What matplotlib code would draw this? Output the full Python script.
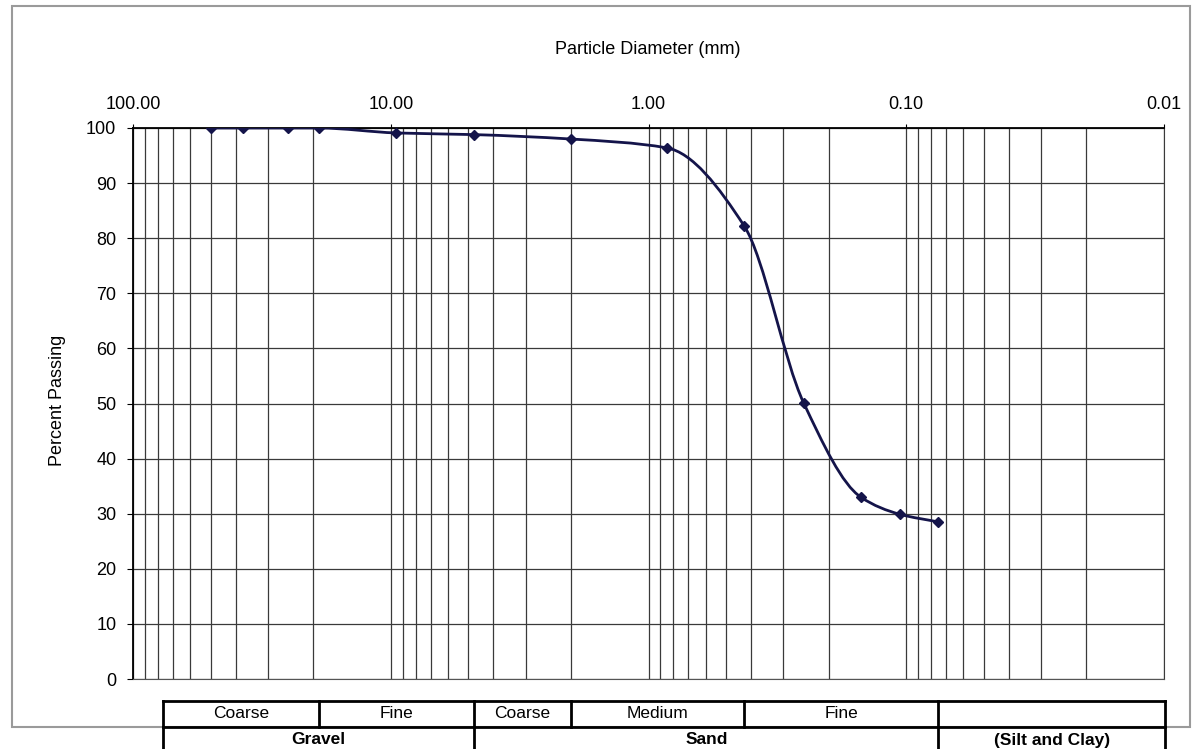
import numpy as np
import matplotlib
matplotlib.use("Agg")
import matplotlib.pyplot as plt
from matplotlib import font_manager, transforms
from matplotlib.path import Path
from matplotlib.patches import PathPatch, Rectangle
from matplotlib.lines import Line2D
from matplotlib.ticker import LogLocator, NullFormatter

# sieve data
sizes_mm = [50, 37.5, 25, 19, 9.5, 4.75, 2.0, 0.85, 0.425, 0.25, 0.15, 0.106, 0.075]
passing = [100, 100, 100, 100, 99.1, 98.8, 98.0, 96.4, 82.2, 50.1, 33.0, 29.9, 28.5]

x_ticks = [100, 10, 1, 0.1, 0.01]
x_tick_labels = ["100.00", "10.00", "1.00", "0.10", "0.01"]
y_ticks = list(range(0, 101, 10))

# classification table under the chart
sub_labels = ["Coarse", "Fine", "Coarse", "Medium", "Fine", ""]
sub_bounds = [76.2, 19, 4.75, 2.0, 0.425, 0.075, 0.0099]
group_labels = ["Gravel", "Sand", "(Silt and Clay)"]
group_bounds = [76.2, 4.75, 0.075, 0.0099]

plt.rcParams["font.family"] = ["Liberation Sans", "DejaVu Sans"]
names = {f.name for f in font_manager.fontManager.ttflist}
narrow = "Liberation Sans Narrow" if "Liberation Sans Narrow" in names else "Liberation Sans"
tsize = 13.5 if narrow == "Liberation Sans Narrow" else 12.5

W, H = 1201, 749
fig = plt.figure(figsize=(W / 100, H / 100), dpi=100)


def fx(px):
    return px / W


def fy(py):
    return 1 - py / H


# outer frame
fig.patches.append(Rectangle((fx(12), fy(727)), fx(1190 - 12), (727 - 6) / H,
                             transform=fig.transFigure, fill=False,
                             edgecolor="#9a9a9a", linewidth=1.5))

ax = fig.add_axes([fx(133), fy(679), fx(1164 - 133), (679 - 128) / H])
ax.set_xscale("log")
ax.set_xlim(100, 0.01)
ax.set_ylim(0, 100)

ax.xaxis.tick_top()
ax.set_xticks(x_ticks)
ax.set_xticklabels(x_tick_labels)
ax.xaxis.set_minor_locator(LogLocator(base=10, subs=np.arange(2, 10)))
ax.xaxis.set_minor_formatter(NullFormatter())
ax.set_yticks(y_ticks)
ax.tick_params(axis="x", which="major", length=3, pad=8, labelsize=13)
ax.tick_params(axis="x", which="minor", length=0)
ax.tick_params(axis="y", length=4, pad=8, labelsize=13)

ax.grid(which="both", axis="x", color="#3a3a3a", linewidth=0.9)
ax.grid(which="major", axis="y", color="#3a3a3a", linewidth=0.9)
ax.set_axisbelow(True)
for side in ["top", "left"]:
    ax.spines[side].set_color("black")
    ax.spines[side].set_linewidth(1.3)
ax.spines["right"].set_color("#3a3a3a")
ax.spines["bottom"].set_color("#555555")

# smooth line: monotone cubic (Fritsch-Carlson) in log space, drawn as bezier
u = np.log10(sizes_mm)
v = np.array(passing, dtype=float)
n = len(u)
h = np.diff(u)
d = np.diff(v) / h
m = np.zeros(n)
m[0], m[-1] = d[0], d[-1]
for i in range(1, n - 1):
    if d[i - 1] * d[i] <= 0:
        m[i] = 0.0
    else:
        w1 = 2 * h[i] + h[i - 1]
        w2 = h[i] + 2 * h[i - 1]
        m[i] = (w1 + w2) / (w1 / d[i - 1] + w2 / d[i])
verts = [(u[0], v[0])]
codes = [Path.MOVETO]
for i in range(n - 1):
    verts.append((u[i] + h[i] / 3, v[i] + m[i] * h[i] / 3))
    verts.append((u[i + 1] - h[i] / 3, v[i + 1] - m[i + 1] * h[i] / 3))
    verts.append((u[i + 1], v[i + 1]))
    codes += [Path.CURVE4] * 3
verts = np.array(verts)
verts[:, 0] = 10 ** verts[:, 0]
line_color = "#14144a"
ax.add_patch(PathPatch(Path(verts, codes), fill=False, edgecolor=line_color,
                       linewidth=2, zorder=3))
ax.plot(sizes_mm, passing, linestyle="none", marker="D", markersize=5,
        color=line_color, zorder=4)

fig.text(fx(648), fy(50), "Particle Diameter (mm)", ha="center", va="center",
         fontsize=13)
fig.text(fx(58), fy(400), "Percent Passing", ha="center", va="center",
         rotation=90, fontsize=13)

# table, x positions follow the particle size axis
tr = transforms.blended_transform_factory(ax.transData, fig.transFigure)
y_top, y_mid, y_bot = fy(701), fy(727), fy(753)
lw = 2
x0, x1 = sub_bounds[0], sub_bounds[-1]
for yy in [y_top, y_mid, y_bot]:
    fig.lines.append(Line2D([x0, x1], [yy, yy], transform=tr, color="black", lw=lw))
for b in sub_bounds:
    fig.lines.append(Line2D([b, b], [y_top, y_mid], transform=tr, color="black", lw=lw))
for b in group_bounds:
    fig.lines.append(Line2D([b, b], [y_mid, y_bot], transform=tr, color="black", lw=lw))
for i, lab in enumerate(sub_labels):
    xc = np.sqrt(sub_bounds[i] * sub_bounds[i + 1])
    fig.text(xc, (y_top + y_mid) / 2, lab, transform=tr, ha="center", va="center",
             family=[narrow, "DejaVu Sans"], fontsize=tsize)
for i, lab in enumerate(group_labels):
    xc = np.sqrt(group_bounds[i] * group_bounds[i + 1])
    fig.text(xc, fy(740), lab, transform=tr, ha="center", va="center",
             family=[narrow, "DejaVu Sans"], fontsize=tsize, fontweight="bold")

fig.savefig("out.png", dpi=100)
